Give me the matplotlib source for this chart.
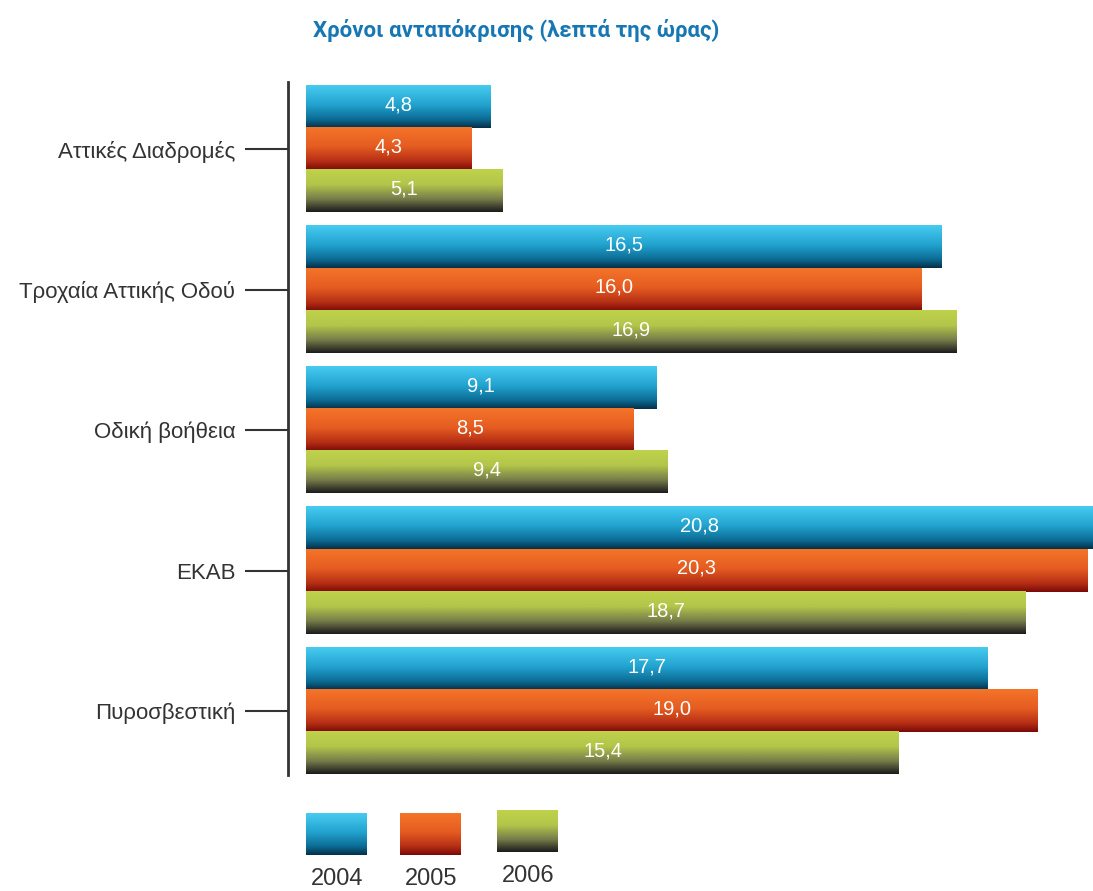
import matplotlib
matplotlib.use('Agg')
import matplotlib.pyplot as plt
import numpy as np
from matplotlib.colors import LinearSegmentedColormap

# Δεδομένα
categories = ['Αττικές Διαδρομές', 'Τροχαία Αττικής Οδού', 'Οδική βοήθεια', 'ΕΚΑΒ', 'Πυροσβεστική']
years = ['2004', '2005', '2006']
v2004 = [4.8, 16.5, 9.1, 20.8, 17.7]
v2005 = [4.3, 16.0, 8.5, 20.3, 19.0]
v2006 = [5.1, 16.9, 9.4, 18.7, 15.4]
series = [v2004, v2005, v2006]

# Διαβαθμίσεις χρωμάτων (πάνω -> κάτω)
gradients = [
    [(0.0, '#48cbf0'), (0.45, '#22a3d0'), (0.8, '#0c6c94'), (1.0, '#05304a')],
    [(0.0, '#f47429'), (0.45, '#e55c21'), (0.8, '#b52f15'), (1.0, '#7c0a08')],
    [(0.0, '#bfd24b'), (0.35, '#b4c64a'), (0.7, '#767c4a'), (1.0, '#1c1c1c')],
]
cmaps = [LinearSegmentedColormap.from_list('g%d' % i, g) for i, g in enumerate(gradients)]
grad = np.linspace(0, 1, 64).reshape(-1, 1)

text_dark = '#333333'
fig = plt.figure(figsize=(10.93, 8.91), dpi=100)
ax = fig.add_axes([288 / 1093, 1 - 775 / 891, 1 - 288 / 1093, (775 - 82) / 891])

bar_h = 0.3
y = np.arange(len(categories))
offsets = [-bar_h, 0, bar_h]

for vals, off, cm in zip(series, offsets, cmaps):
    bars = ax.barh(y + off, vals, height=bar_h, color='none', edgecolor='none')
    for b, v in zip(bars, vals):
        x0, y0 = b.get_x(), b.get_y()
        x1, y1 = x0 + b.get_width(), y0 + b.get_height()
        ax.imshow(grad, cmap=cm, aspect='auto', origin='upper',
                  extent=(x0, x1, y1, y0), interpolation='bilinear', zorder=2)
        xmax = min(x1, 20.44)
        ax.text((x0 + xmax) / 2, y0 + b.get_height() / 2 - 0.015,
                ('%.1f' % v).replace('.', ','), ha='center', va='center',
                color='white', fontsize=14.5, family='Liberation Sans', zorder=3)

ax.set_xlim(-0.47, 20.44)
ax.set_ylim(4.455, -0.477)
ax.set_yticks(y)
ax.set_yticklabels(categories, fontsize=16, color=text_dark, family='Liberation Sans')
ax.tick_params(axis='y', length=31, width=1.5, color=text_dark, pad=7)
ax.tick_params(axis='x', bottom=False, labelbottom=False)
for s in ['top', 'right', 'bottom']:
    ax.spines[s].set_visible(False)
ax.spines['left'].set_linewidth(2)
ax.spines['left'].set_color(text_dark)

fig.text(516 / 1093, 1 - 30 / 891, 'Χρόνοι ανταπόκρισης (λεπτά της ώρας)',
         ha='center', va='center', fontsize=16, fontweight='bold', color='#1677b4',
         family=['Roboto', 'DejaVu Sans'])

# Υπόμνημα
lax = fig.add_axes([0, 0, 1, 1])
lax.axis('off')
leg_x = [306, 400, 497]
leg_top = [813, 813, 810]
for yr, lx, lt, cm in zip(years, leg_x, leg_top, cmaps):
    lax.imshow(grad, cmap=cm, aspect='auto', origin='upper',
               extent=(lx, lx + 61, lt + 42, lt), interpolation='bilinear')
    lax.text(lx + 31, lt + 66, yr, ha='center', va='center', fontsize=17,
             color=text_dark, family='Liberation Sans')
lax.set_xlim(0, 1093)
lax.set_ylim(891, 0)

fig.savefig('out.png', dpi=100)
